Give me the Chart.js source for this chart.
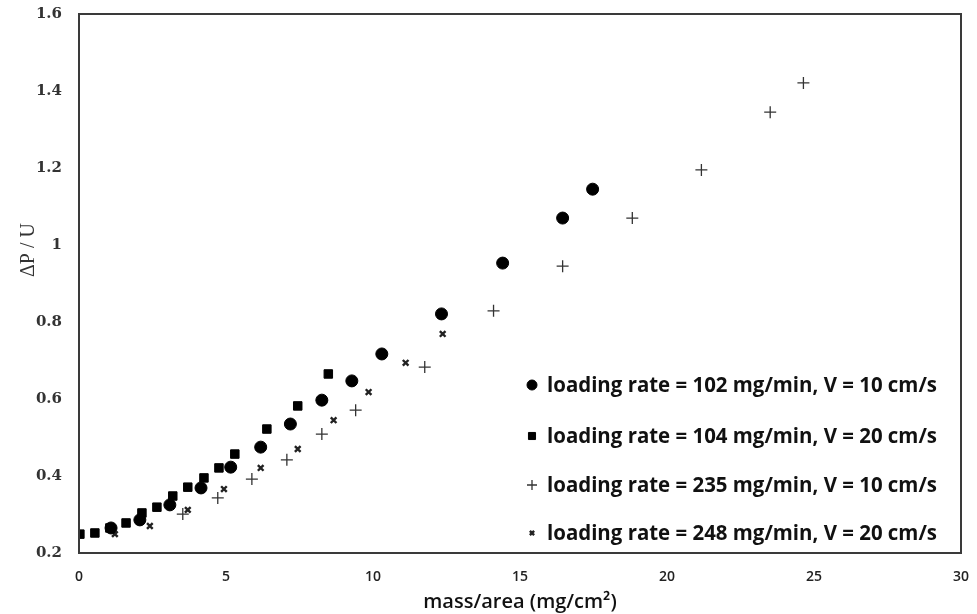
<!DOCTYPE html>
<html>
<head>
<meta charset="utf-8">
<script src="https://cdn.jsdelivr.net/npm/chart.js@4.4.1/dist/chart.umd.min.js"></script>
<style>
html,body{margin:0;padding:0;background:#fff;}
#wrap{width:977px;height:614px;position:relative;}
</style>
</head>
<body>
<div id="wrap"><canvas id="c" width="977" height="614"></canvas></div>
<script>
// ---- data ----
const seriesLabels = [
  "loading rate = 102 mg/min, V = 10 cm/s",
  "loading rate = 104 mg/min, V = 20 cm/s",
  "loading rate = 235 mg/min, V = 10 cm/s",
  "loading rate = 248 mg/min, V = 20 cm/s"
];
const circleX = [1.09, 2.07, 3.09, 4.15, 5.16, 6.18, 7.19, 8.26, 9.28, 10.30, 12.33, 14.41, 16.45, 17.47];
const circleY = [0.265, 0.286, 0.325, 0.369, 0.423, 0.475, 0.535, 0.597, 0.647, 0.717, 0.821, 0.953, 1.070, 1.145];
const squareX = [0.03, 0.54, 1.05, 1.60, 2.14, 2.65, 3.19, 3.70, 4.25, 4.76, 5.30, 6.39, 7.44, 8.48];
const squareY = [0.249, 0.252, 0.265, 0.278, 0.304, 0.319, 0.348, 0.371, 0.395, 0.421, 0.457, 0.522, 0.582, 0.665];
const plusX = [3.53, 4.72, 5.88, 7.07, 8.26, 9.41, 11.76, 14.10, 16.45, 18.82, 21.17, 23.51, 24.64];
const plusY = [0.301, 0.343, 0.392, 0.442, 0.509, 0.571, 0.683, 0.829, 0.945, 1.070, 1.195, 1.345, 1.421];
const starX = [1.22, 2.41, 3.70, 4.93, 6.18, 7.44, 8.66, 9.85, 11.11, 12.37];
const starY = [0.249, 0.270, 0.312, 0.366, 0.421, 0.470, 0.545, 0.618, 0.694, 0.769];
const xTicks = [0, 5, 10, 15, 20, 25, 30];
const yTicks = [0.2, 0.4, 0.6, 0.8, 1, 1.2, 1.4, 1.6];
const xTitle = "mass/area (mg/cm\u00B2)";
const yTitle = "\u0394P / U";

function pts(xs, ys){ return xs.map((x,i)=>({x:x, y:ys[i]})); }

const styles = [
  {pointStyle:'circle', radius:6, lr:5, bg:'#000', border:'#000', bw:1},
  {pointStyle:'rect', radius:6, lr:5, bg:'#000', border:'#000', bw:1},
  {pointStyle:'cross', radius:6, lr:5, bg:'#333', border:'#333', bw:1.3},
  {pointStyle:'crossRot', radius:4, lr:3, bg:'#222', border:'#222', bw:2.4}
];
const dataArr = [pts(circleX,circleY), pts(squareX,squareY), pts(plusX,plusY), pts(starX,starY)];
const datasets = dataArr.map((d,i)=>({
  label: seriesLabels[i],
  data: d,
  showLine:false,
  pointStyle: styles[i].pointStyle,
  pointRadius: styles[i].radius,
  pointHoverRadius: styles[i].radius,
  pointBackgroundColor: styles[i].bg,
  pointBorderColor: styles[i].border,
  pointBorderWidth: styles[i].bw
}));

const boxPlugin = {
  id:'box',
  afterDatasetsDraw(chart){
    const {ctx, chartArea:a} = chart;
    ctx.save();
    ctx.strokeStyle = '#3a3a3a';
    ctx.lineWidth = 2;
    ctx.strokeRect(a.left, a.top, a.right-a.left, a.bottom-a.top);
    ctx.restore();
  }
};

const yTitlePlugin = {
  id:'yTitleDraw',
  afterDraw(chart){
    const ctx = chart.ctx;
    ctx.save();
    ctx.translate(29, 250);
    ctx.rotate(-Math.PI/2);
    ctx.font = '20px "Liberation Serif", serif';
    ctx.fillStyle = '#333';
    ctx.textAlign = 'center';
    ctx.textBaseline = 'middle';
    ctx.fillText(yTitle, 0, 0);
    ctx.restore();
  }
};

const legendPlugin = {
  id:'inLegend',
  afterDraw(chart){
    const ctx = chart.ctx;
    const x0 = 532, textX = 547, targetW = 390;
    const rows = [385, 436, 485, 533];
    chart.data.datasets.forEach((ds,i)=>{
      const y = rows[i];
      const st = styles[i];
      ctx.save();
      ctx.fillStyle = st.bg; ctx.strokeStyle = st.border; ctx.lineWidth = st.bw;
      Chart.helpers.drawPoint(ctx, {pointStyle: st.pointStyle, radius: st.lr, borderWidth: st.bw}, x0, y);
      ctx.restore();
      ctx.save();
      ctx.font = 'bold 21px "Open Sans", sans-serif';
      ctx.fillStyle = '#111';
      ctx.textBaseline = 'middle';
      const w = ctx.measureText(ds.label).width;
      const sx = targetW / w;
      ctx.translate(textX, y + 1);
      ctx.scale(sx, 1);
      ctx.fillText(ds.label, 0, 0);
      ctx.restore();
    });
  }
};

new Chart(document.getElementById('c'), {
  type:'scatter',
  data:{datasets},
  plugins:[boxPlugin, legendPlugin, yTitlePlugin],
  options:{
    responsive:false,
    animation:false,
    events:[],
    layout:{padding:{left:0, right:16, top:14, bottom:0}},
    plugins:{legend:{display:false}, tooltip:{enabled:false}},
    scales:{
      x:{
        type:'linear', min:0, max:30,
        afterBuildTicks(s){ s.ticks = xTicks.map(v=>({value:v})); },
        afterFit(s){ s.height = 61; s.paddingLeft = 0; s.paddingRight = 0; },
        grid:{display:false, drawTicks:false},
        border:{display:false},
        ticks:{color:'#222', padding:16, maxRotation:0, font:{family:'"Open Sans", sans-serif', size:14, weight:'600'}},
        title:{display:true, text:xTitle, color:'#111', padding:{top:0,bottom:0}, font:{family:'"Open Sans", sans-serif', size:20, weight:'600'}}
      },
      y:{
        type:'linear', min:0.2, max:1.6,
        afterBuildTicks(s){ s.ticks = yTicks.map(v=>({value:v})); },
        afterFit(s){ s.width = 79; s.paddingTop = 0; s.paddingBottom = 0; },
        grid:{display:false, drawTicks:false},
        border:{display:false},
        ticks:{color:'#333', padding:17, callback:(v)=>String(v), font:{family:'"DejaVu Serif", serif', size:15, weight:'bold'}},
        title:{display:false, text:yTitle}
      }
    }
  }
});
</script>
</body>
</html>
